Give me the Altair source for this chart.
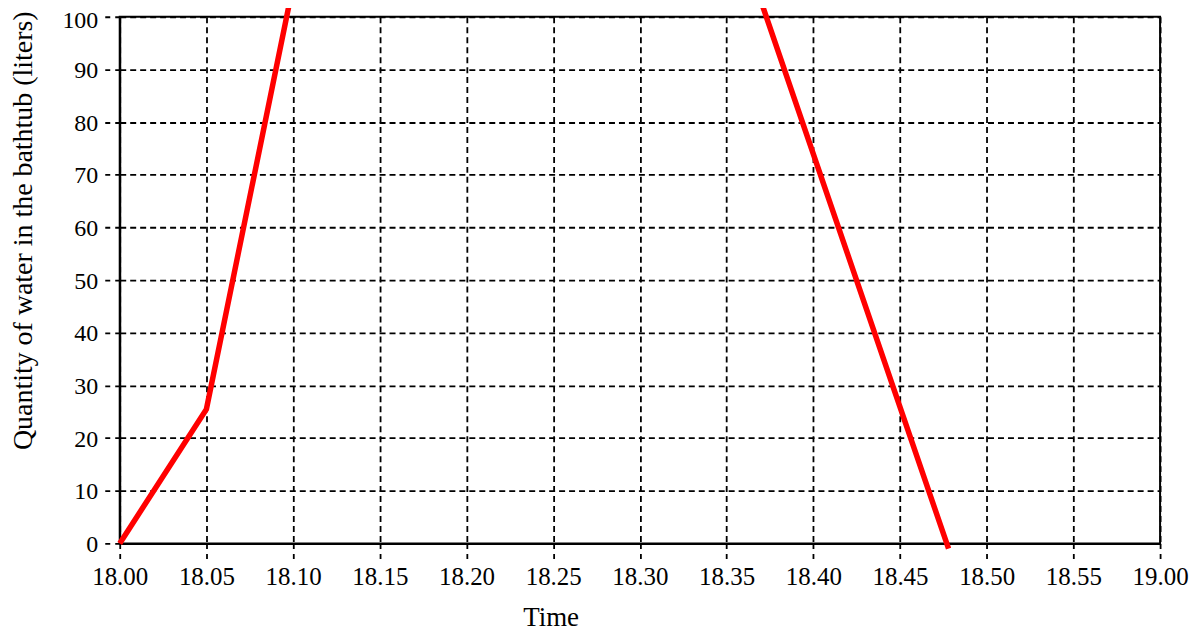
import altair as alt
import pandas as pd

# Tick labels along the time axis (evenly spaced positions)
x_labels = ["18.00", "18.05", "18.10", "18.15", "18.20", "18.25", "18.30",
            "18.35", "18.40", "18.45", "18.50", "18.55", "19.00"]
y_ticks = [0, 10, 20, 30, 40, 50, 60, 70, 80, 90, 100]

# Line data (peak lies above the visible range)
times = [18.00, 18.05, 18.10, 18.35, 18.478]
water = [0, 25.5, 106, 122, -1]

df = pd.DataFrame({"t": times, "v": water})

FONT = "Liberation Serif"
label_expr = "[" + ",".join("'" + s + "'" for s in x_labels) + "][datum.value]"

line = alt.Chart(df).transform_calculate(
    pos="(datum.t - 18) / 0.05"
).mark_line(
    color="#ff0000", strokeWidth=5.5, clip=False, strokeCap="butt", strokeJoin="miter"
).encode(
    x=alt.X(
        "pos:Q",
        scale=alt.Scale(domain=[0, len(x_labels) - 1], nice=False, zero=False),
        axis=alt.Axis(
            values=list(range(len(x_labels))),
            labelExpr=label_expr,
            title="Time",
            titleX=432,
            titleY=82,
            titleAlign="center",
            titleBaseline="alphabetic",
            titleFontSize=27,
            titleFont=FONT,
            labelFont=FONT,
            labelFontSize=25,
            labelPadding=5,
            tickSize=16,
            labelFlush=False,
            labelOverlap=False,
        ),
    ),
    y=alt.Y(
        "v:Q",
        scale=alt.Scale(domain=[0, 100], nice=False, zero=False),
        axis=alt.Axis(
            values=y_ticks,
            title="Quantity of water in the bathtub (liters)",
            titleX=-88,
            titleY=214,
            titleAngle=270,
            titleAlign="center",
            titleBaseline="alphabetic",
            titleFontSize=28,
            titleFont=FONT,
            labelFont=FONT,
            labelFontSize=24,
            labelPadding=6,
            labelOffset={"condition": {"test": "datum.value == 100", "value": 4}, "value": 1},
            tickSize=16,
            labelFlush=False,
            labelOverlap=False,
        ),
    ),
)

chart = line.properties(
    width=1043,
    height=528,
    background="white",
    autosize=alt.AutoSizeParams(type="none"),
    padding={"left": 112, "top": 8, "right": 35, "bottom": 90},
).configure_view(
    stroke="black", strokeWidth=2
).configure_axis(
    grid=True,
    gridColor="black",
    gridDash=[6, 4],
    gridWidth=1.8,
    gridOpacity=1,
    domainColor="black",
    domainWidth=2,
    tickColor="black",
    tickDash=[5, 5],
    tickWidth=1.8,
    labelFont=FONT,
    titleFont=FONT,
    labelColor="black",
    titleColor="black",
    titleFontWeight="normal",
)

chart.save("out.html", embed_options={"renderer": "svg", "actions": False})
